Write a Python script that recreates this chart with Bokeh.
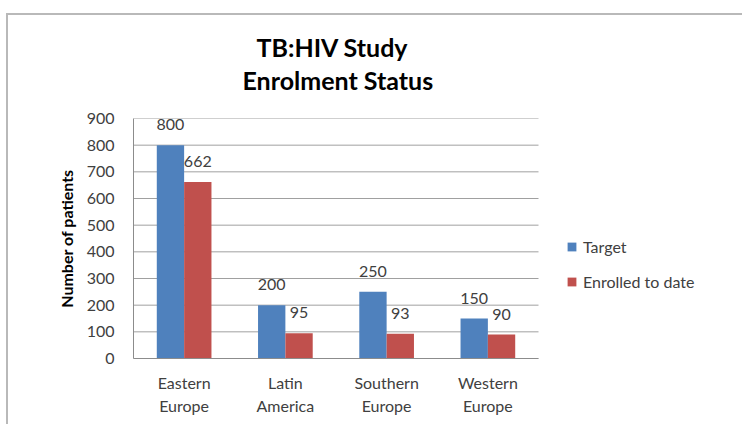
import numpy as np
from bokeh.plotting import figure
from bokeh.models import ColumnDataSource, Legend, LegendItem, Title, Range1d, FixedTicker
from bokeh.core.properties import value
from bokeh.embed import file_html
from bokeh.resources import INLINE

categories = ["Eastern Europe", "Latin America", "Southern Europe", "Western Europe"]
target = [800, 200, 250, 150]
enrolled = [662, 95, 93, 90]
series_names = ["Target", "Enrolled to date"]
y_ticks = [0, 100, 200, 300, 400, 500, 600, 700, 800, 900]
title_lines = ["TB:HIV Study", "Enrolment Status"]
y_label = "Number of patients"

BLUE = "#4F81BD"
RED = "#C0504D"
TEXT = "#404040"
FONT = "Lato"

n = len(categories)
centers = np.arange(n) + 0.5
BAR_W = 0.27
src = ColumnDataSource(dict(
    xt=centers - BAR_W / 2,
    xe=centers + BAR_W / 2,
    target=target,
    enrolled=enrolled,
    target_txt=[str(v) for v in target],
    enrolled_txt=[str(v) for v in enrolled],
))
grid_src = ColumnDataSource(dict(y=y_ticks, x0=[0] * len(y_ticks), x1=[n] * len(y_ticks)))

# frame spans the category area plus the legend area to its right
FRAME_W = 595
CAT_PX = 101.25
p = figure(
    width=736, height=411,
    x_range=Range1d(0, FRAME_W / CAT_PX),
    y_range=Range1d(0, 900),
    output_backend="svg",
    toolbar_location=None,
    min_border_left=125, min_border_right=736 - 125 - FRAME_W,
    min_border_top=103, min_border_bottom=68,
)
p.styles = {"border-top": "2px solid #b9b9b9", "border-left": "2px solid #b9b9b9",
            "margin-top": "13px", "margin-left": "6px"}
p.outline_line_color = None
p.background_fill_color = "white"
p.border_fill_color = "white"
p.xgrid.grid_line_color = None
p.ygrid.grid_line_color = None

# horizontal gridlines limited to the category area
p.segment(x0="x0", x1="x1", y0="y", y1="y", source=grid_src,
          line_color="#a0a0a0", line_width=1)

r1 = p.vbar(x="xt", top="target", width=BAR_W, source=src, fill_color=BLUE, line_color=None)
r2 = p.vbar(x="xe", top="enrolled", width=BAR_W, source=src, fill_color=RED, line_color=None)

p.text(x="xt", y="target", text="target_txt", source=src,
       text_align="center", text_baseline="bottom", y_offset=-15,
       text_font=value(FONT), text_font_size="16px", text_color=TEXT)
p.text(x="xe", y="enrolled", text="enrolled_txt", source=src,
       text_align="center", text_baseline="bottom", y_offset=-15,
       text_font=value(FONT), text_font_size="16px", text_color=TEXT)

# titles: later entries in p.above sit nearer the frame
p.title.text = title_lines[0]
p.title.align = "left"
p.title.offset = 123
p.title.text_font = FONT
p.title.text_font_size = "25px"
p.title.text_font_style = "bold"
p.title.text_color = "black"
p.title.standoff = -47
t2 = Title(text=title_lines[1], align="left", offset=109, text_font=FONT,
           text_font_size="25px", text_font_style="bold", text_color="black", standoff=48)
p.add_layout(t2, "above")

# axes
p.yaxis.ticker = FixedTicker(ticks=y_ticks)
p.yaxis.axis_label = y_label
p.yaxis.axis_label_text_font = FONT
p.yaxis.axis_label_text_font_size = "16px"
p.yaxis.axis_label_text_font_style = "bold"
p.yaxis.axis_label_text_color = "black"
p.yaxis.axis_label_standoff = 8
p.yaxis.major_label_standoff = 13

p.xaxis.ticker = FixedTicker(ticks=list(centers))
p.xaxis.major_label_overrides = {float(c): name.replace(" ", "\n")
                                 for c, name in zip(centers, categories)}
p.xaxis.bounds = (0, n)
for ax in (p.xaxis, p.yaxis):
    ax.major_label_text_font = FONT
    ax.major_label_text_font_size = "16px"
    ax.major_label_text_color = TEXT
    ax.major_tick_line_color = None
    ax.minor_tick_line_color = None
    ax.axis_line_color = "#8c8c8c"
p.xaxis.major_label_standoff = 8
p.xaxis.major_label_text_line_height = 1.25

legend = Legend(
    items=[LegendItem(label=series_names[0], renderers=[r1]),
           LegendItem(label=series_names[1], renderers=[r2])],
    location=(433, 67),
    orientation="vertical",
    glyph_width=11, glyph_height=11,
    label_height=20, spacing=15, padding=0, margin=0,
    label_standoff=6,
    label_text_font=FONT, label_text_font_size="16px", label_text_color=TEXT,
    border_line_color=None, background_fill_alpha=0,
)
p.add_layout(legend, "center")

open("out.html", "w").write(file_html(p, INLINE))
